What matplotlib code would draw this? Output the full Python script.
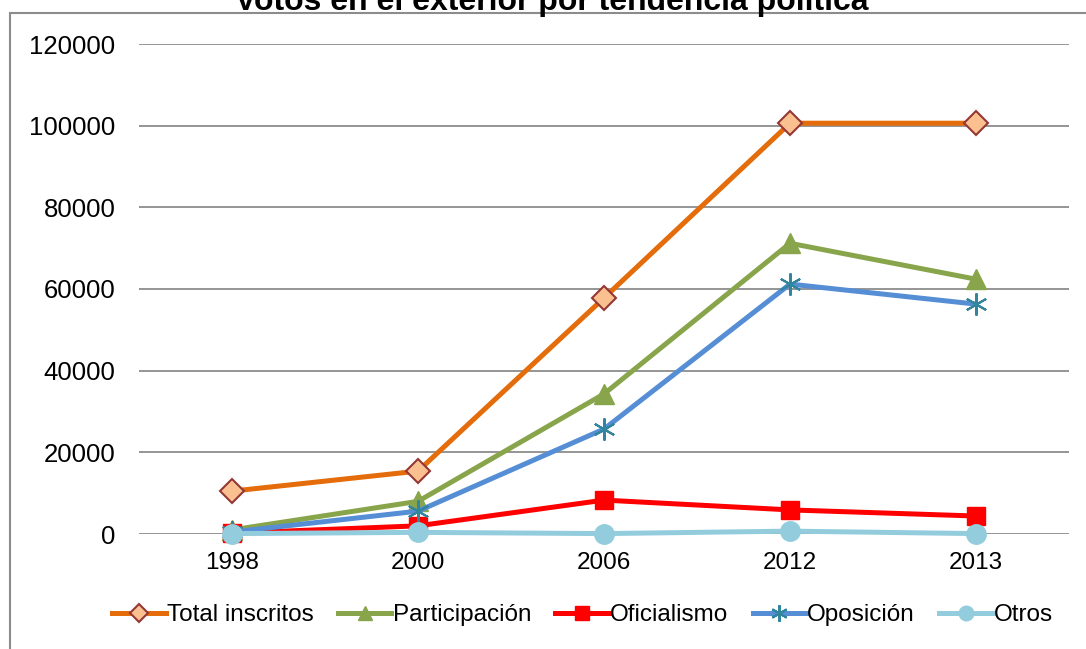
import matplotlib.pyplot as plt
from matplotlib.patches import Rectangle

years = ["1998", "2000", "2006", "2012", "2013"]
total_inscritos = [10500, 15400, 57800, 100600, 100600]
participacion = [1000, 8000, 34300, 71200, 62400]
oficialismo = [200, 2000, 8300, 5900, 4400]
oposicion = [500, 5600, 25700, 61200, 56300]
otros = [100, 400, 100, 700, 100]

plt.rcParams["font.family"] = ["Liberation Sans", "DejaVu Sans"]

fig = plt.figure(figsize=(10.86, 6.49), dpi=100)
# outer chart border (runs off the right and bottom edges)
fig.patches.append(Rectangle((10 / 1086, -0.05), 1.1, 1 - 13 / 649 + 0.05,
                             transform=fig.transFigure, fill=False,
                             edgecolor="#8C8C8C", linewidth=1.5))
ax = fig.add_axes([139 / 1086, 1 - 534 / 649, (1069 - 139) / 1086, (534 - 44) / 649])

x = range(len(years))
series = [
    ("Total inscritos", total_inscritos, dict(color="#E46C0A", marker="D", markersize=12,
                                              markerfacecolor="#FAC090", markeredgecolor="#953735",
                                              markeredgewidth=1.5)),
    ("Participación", participacion, dict(color="#88A54B", marker="^", markersize=14,
                                          markerfacecolor="#88A54B", markeredgecolor="#88A54B")),
    ("Oficialismo", oficialismo, dict(color="#FF0000", marker="s", markersize=13,
                                      markerfacecolor="#FF0000", markeredgecolor="#FF0000")),
    ("Oposición", oposicion, dict(color="#558ED5", marker=(6, 2, 0), markersize=16,
                                  markeredgecolor="#31859C", markeredgewidth=1.5)),
    ("Otros", otros, dict(color="#93CDDD", marker="o", markersize=14,
                          markerfacecolor="#93CDDD", markeredgecolor="#93CDDD")),
]
for label, vals, style in series:
    ax.plot(x, vals, linewidth=3.6, label=label, clip_on=False, **style)

ax.set_xlim(-0.5, len(years) - 0.5)
ax.set_ylim(0, 120000)
ax.set_yticks(range(0, 120001, 20000))
ax.set_xticks(list(x))
ax.set_xticklabels(years)
ax.grid(axis="y", color="#8C8C8C", linewidth=1.3)
ax.set_axisbelow(True)
for s in ax.spines.values():
    s.set_visible(False)
ax.tick_params(length=0, labelsize=17.5)
ax.tick_params(axis="x", pad=13)
ax.tick_params(axis="y", pad=17, labelsize=18.5)

fig.text(0.508, 1 - 10 / 649, "Votos en el exterior por tendencia política", ha="center",
         va="baseline", fontsize=23, fontweight="bold")

ax.legend(loc="center", bbox_to_anchor=(0.477, (534 - 615) / 490), ncol=5, frameon=False,
          fontsize=17.5, handlelength=2.2, handletextpad=0.05, columnspacing=1.0,
          markerscale=0.75)

fig.savefig("out.png", dpi=100)
